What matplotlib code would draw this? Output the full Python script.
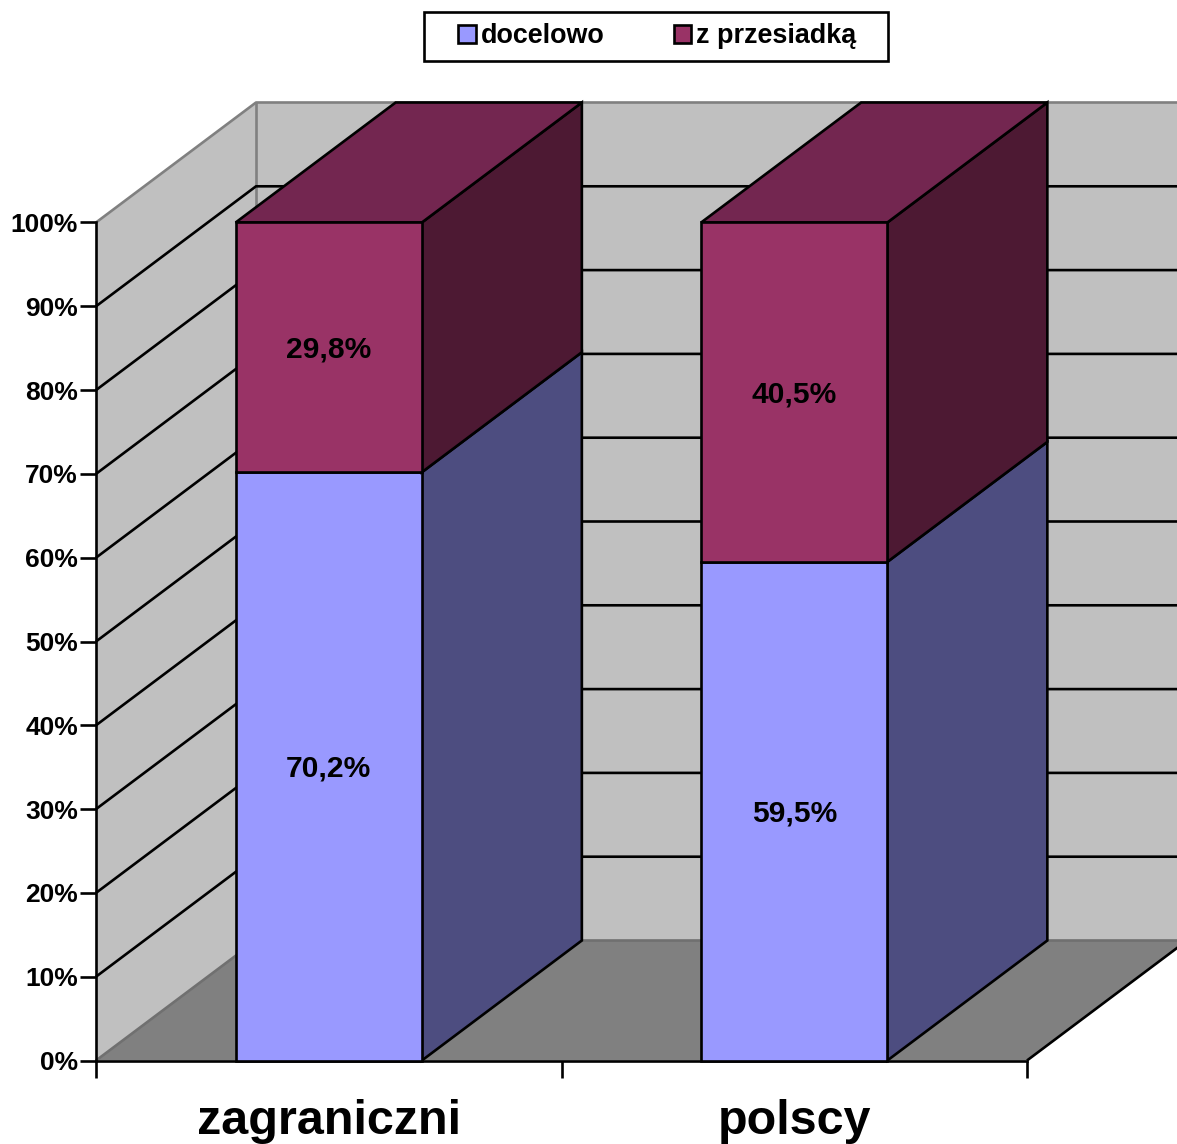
import matplotlib
matplotlib.use("Agg")
import matplotlib.pyplot as plt
from matplotlib.patches import Polygon, Rectangle, Patch

categories = ["zagraniczni", "polscy"]
docelowo = [70.2, 59.5]
przesiadka = [29.8, 40.5]
docelowo_labels = ["70,2%", "59,5%"]
przesiadka_labels = ["29,8%", "40,5%"]
y_ticks = [0, 10, 20, 30, 40, 50, 60, 70, 80, 90, 100]

W, H = 1177, 1144
LW = 1.9

plt.rcParams["font.family"] = ["Liberation Sans", "DejaVu Sans"]
plt.rcParams["font.weight"] = "bold"

fig = plt.figure(figsize=(W / 100, H / 100), dpi=100)
ax = fig.add_axes([96 / W, 1 - 1060.5 / H, 931 / W, 838 / H])
ax.set_xlim(0, 2)
ax.set_ylim(0, 100)
ax.patch.set_visible(False)

# depth of the fake 3D box, in data units
DX = 160 / 465.5
DY = 120 / 8.38
BAR_W = 0.4


def add_poly(pts, face, edge="black", z=3, lw=LW):
    ax.add_patch(Polygon(pts, closed=True, facecolor=face, edgecolor=edge, linewidth=lw,
                         joinstyle="miter", clip_on=False, zorder=z))


def add_line(xs, ys, color="black", z=1.5):
    ax.plot(xs, ys, color=color, linewidth=LW, clip_on=False, zorder=z, solid_capstyle="butt")


def add_label(x, y, s):
    ax.annotate(s, (x, y), xytext=(0, -1.5), textcoords="offset points", ha="center", va="center",
                fontsize=21.6, zorder=5)


# Walls and floor
add_poly([(0, 0), (DX, DY), (DX, 100 + DY), (0, 100)], "#C0C0C0", edge="none", z=1)
add_poly([(DX, DY), (2 + DX, DY), (2 + DX, 100 + DY), (DX, 100 + DY)], "#C0C0C0", edge="none", z=1)
add_poly([(0, 0), (2, 0), (2 + DX, DY), (DX, DY)], "#808080", edge="none", z=1.1)

# Gridlines
for v in y_ticks[1:-1]:
    add_line([0, DX, 2 + DX], [v, v + DY, v + DY])

# Wall outline
add_line([0, DX, 2 + DX], [100, 100 + DY, 100 + DY], color="#808080", z=1.6)
add_line([DX, DX], [DY, 100 + DY], color="#808080", z=1.4)
add_line([0, DX, 2 + DX], [0, DY, DY], color="#707070", z=1.3)
add_line([2, 2 + DX], [0, DY], z=1.6)


def draw_segment(x, y0, y1, front, side, top=None):
    l, r = x - BAR_W / 2, x + BAR_W / 2
    add_poly([(r, y0), (r + DX, y0 + DY), (r + DX, y1 + DY), (r, y1)], side)
    if top:
        add_poly([(l, y1), (r, y1), (r + DX, y1 + DY), (l + DX, y1 + DY)], top)
    add_poly([(l, y0), (r, y0), (r, y1), (l, y1)], front)


for i, cat in enumerate(categories):
    x = i + 0.5
    a, b = docelowo[i], przesiadka[i]
    draw_segment(x, 0, a, "#9999FF", "#4D4D80")
    draw_segment(x, a, a + b, "#993366", "#4D1933", top="#732650")
    add_label(x, a / 2, docelowo_labels[i])
    add_label(x, a + b / 2, przesiadka_labels[i])

# Axes
for s in ["top", "right"]:
    ax.spines[s].set_visible(False)
ax.spines["left"].set_linewidth(LW)
ax.spines["bottom"].set_linewidth(LW)
ax.set_yticks(y_ticks)
ax.set_yticklabels([f"{v}%" for v in y_ticks], fontsize=19)
ax.tick_params(axis="y", length=11.5, width=LW, pad=1.5)
ax.set_xticks([0, 1, 2])
ax.set_xticklabels([])
ax.tick_params(axis="x", which="major", length=12, width=LW)
ax.set_xticks([0.5, 1.5], minor=True)
ax.set_xticklabels(categories, minor=True, fontsize=34.9)
ax.tick_params(axis="x", which="minor", length=0, pad=28)

# Legend
fig.add_artist(Rectangle((423.5 / W, 1 - 60.5 / H), 464 / W, 49 / H, transform=fig.transFigure,
                         facecolor="white", edgecolor="black", linewidth=LW))
handles = [Patch(facecolor="#9999FF", edgecolor="black", linewidth=LW, label="docelowo"),
           Patch(facecolor="#993366", edgecolor="black", linewidth=LW, label="z przesiadką")]
fig.legend(handles=handles, loc="center", bbox_to_anchor=(657.5 / W, 1 - 36 / H), ncol=2,
           frameon=False, fontsize=19.4, handlelength=0.65, handleheight=0.65,
           handletextpad=0.2, columnspacing=2.54, borderpad=0, borderaxespad=0)

fig.savefig("out.png", dpi=100)
